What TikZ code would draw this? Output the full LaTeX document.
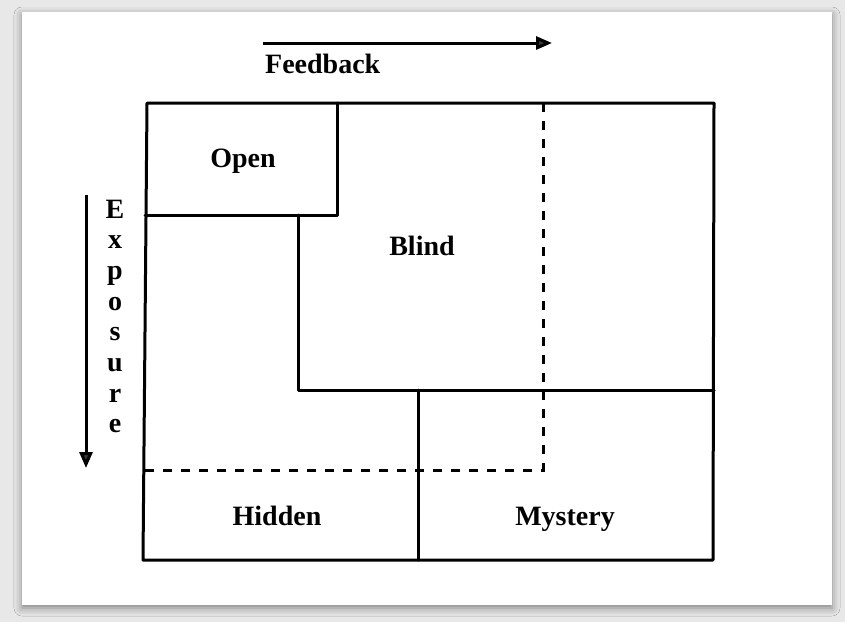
\documentclass[tikz,border=0pt]{standalone}
\usepackage{fontspec}
\setmainfont{Liberation Serif}
\usetikzlibrary{arrows.meta,shadows.blur}
\tikzset{
  wall/.style={line width=3pt, line join=round, line cap=round},
  dotline/.style={line width=3pt, dash pattern=on 9pt off 9pt},
  lbl/.style={font=\bfseries\fontsize{28}{32}\selectfont, inner sep=0pt, anchor=base},
  axis/.style={line width=3pt, -{Triangle[length=16pt,width=13pt]}}
}
\begin{document}
\begin{tikzpicture}[x=1pt,y=-1pt]
\useasboundingbox (0,0) rectangle (845,622);
\fill[gray!18] (0,0) rectangle (845,622);
\fill[white, blur shadow={shadow xshift=0pt, shadow yshift=-3pt, shadow blur radius=8pt, shadow opacity=45}] (22,12) rectangle (832,605);
% coordinates
\coordinate (tl) at (147,103);
\coordinate (tr) at (714,103);
\coordinate (br) at (713,560);
\coordinate (bl) at (143,560);
\coordinate (openR) at (337,103);
\coordinate (openBR) at (337,215);
\coordinate (openBL) at (145,215);
\coordinate (blindTL) at (298,215);
\coordinate (blindBL) at (298,390);
\coordinate (blindBR) at (714,390);
\coordinate (midT) at (418,390);
\coordinate (midB) at (418,560);
\coordinate (dT) at (543,103);
\coordinate (dC) at (543,470);
\coordinate (dL) at (145,470);
\coordinate (fbS) at (263,43);
\coordinate (fbE) at (552,43);
\coordinate (exS) at (86,195);
\coordinate (exE) at (86,468);
% outer frame
\draw[wall] (tl) -- (tr) -- (br) -- (bl) -- cycle;
% open
\draw[wall] (openR) -- (openBR) -- (openBL);
% blind
\draw[wall] (blindTL) -- (blindBL) -- (blindBR);
% split
\draw[wall] (midT) -- (midB);
% dashed
\draw[dotline] (dT) -- (dC) -- (dL);
% arrows
\draw[axis] (fbS) -- (fbE);
\draw[axis] (exS) -- (exE);
% labels
\node[lbl, anchor=base west] (fb) at (265,73) {Feedback};
\node[lbl] (open) at (243,167) {Open};
\node[lbl] (blind) at (422,255) {Blind};
\node[lbl] (hidden) at (277,525) {Hidden};
\node[lbl] (mystery) at (565,525) {Mystery};
\foreach \ch [count=\i from 0] in {E,x,p,o,s,u,r,e}
  \node[lbl] (ex\i) at (115,218+30.7*\i) {\ch};
\end{tikzpicture}
\end{document}
